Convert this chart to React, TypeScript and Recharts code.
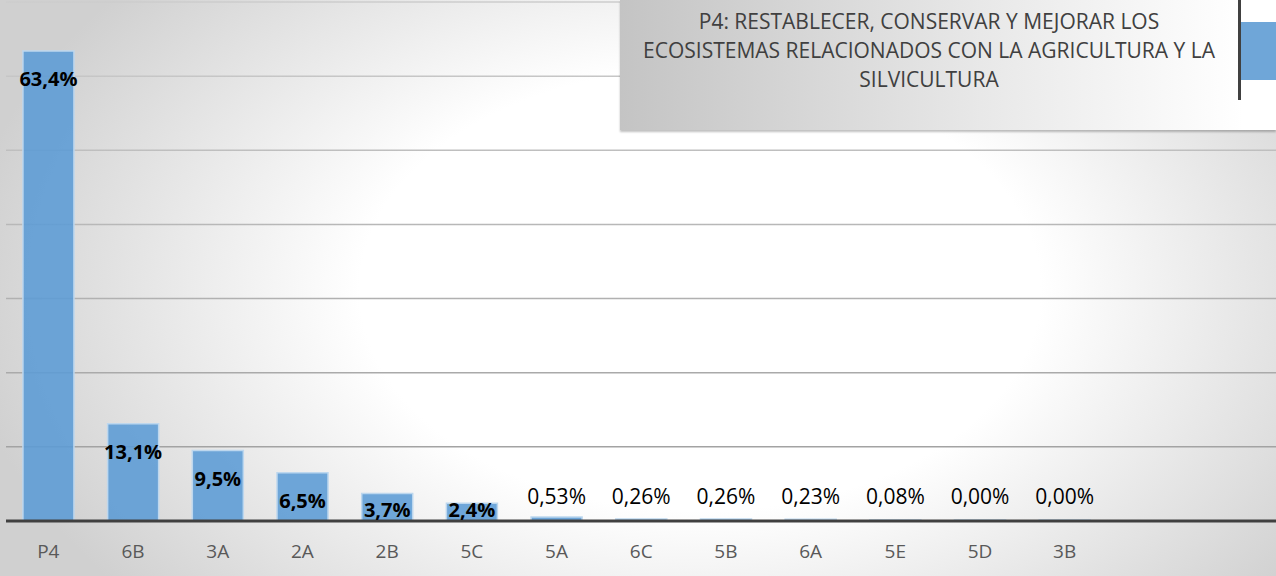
import { Bar, BarChart, CartesianGrid, LabelList, XAxis, YAxis } from "recharts";

const categories = ["P4", "6B", "3A", "2A", "2B", "5C", "5A", "6C", "5B", "6A", "5E", "5D", "3B"];
const shares = [63.4, 13.1, 9.5, 6.5, 3.7, 2.4, 0.53, 0.26, 0.26, 0.23, 0.08, 0.0, 0.0];
const gridTicks = [0, 10, 20, 30, 40, 50, 60, 70];
const legendLines = [
  "P4: RESTABLECER, CONSERVAR Y MEJORAR LOS",
  "ECOSISTEMAS RELACIONADOS CON LA AGRICULTURA Y LA",
  "SILVICULTURA",
];

const chartData = categories.map((name, i) => ({ name, share: shares[i] }));

const FONT = '"Open Sans", sans-serif';

const fmt = (v: number) => (v >= 1 ? v.toFixed(1) : v.toFixed(2)).replace(".", ",") + "%";

function ShareLabel(props: any) {
  const { x, y, width, value } = props;
  const cx = Number(x) + Number(width) / 2;
  const v = Number(value);
  if (v >= 1) {
    return (
      <text
        x={cx}
        y={Math.min(Number(y) + 28, 509)}
        textAnchor="middle"
        dominantBaseline="central"
        fontFamily={FONT}
        fontWeight={700}
        fontSize={20}
        fill="#000"
      >
        {fmt(v)}
      </text>
    );
  }
  return (
    <text
      x={cx}
      y={Math.min(Number(y), 517) - 21}
      textAnchor="middle"
      dominantBaseline="central"
      fontFamily={FONT}
      fontSize={21}
      fill="#000"
    >
      {fmt(v)}
    </text>
  );
}

export default function App() {
  return (
    <div
      style={{
        position: "absolute",
        left: 0,
        top: 0,
        width: 1276,
        height: 576,
        overflow: "hidden",
        background:
          "radial-gradient(ellipse 740px 480px at 700px 290px, #ffffff 0%, #ffffff 46%, #d0d0d0 100%)",
      }}
    >
      <BarChart
        width={1276}
        height={576}
        data={chartData}
        margin={{ top: 2, right: 0, left: 6, bottom: 0 }}
        barCategoryGap="20%"
      >
        <defs>
          <linearGradient id="gridFade" gradientUnits="userSpaceOnUse" x1="0" y1="0" x2="0" y2="521">
            <stop offset="0%" stopColor="#cdcdcd" />
            <stop offset="100%" stopColor="#9c9c9c" />
          </linearGradient>
        </defs>
        <CartesianGrid vertical={false} stroke="url(#gridFade)" strokeWidth={1.5} />
        <YAxis hide domain={[0, 70]} ticks={gridTicks} />
        <XAxis
          dataKey="name"
          height={55}
          padding={{ left: 0, right: 169 }}
          axisLine={{ stroke: "#404040", strokeWidth: 3 }}
          tickLine={false}
          tickSize={6}
          tickMargin={18}
          interval={0}
          tick={{ fontFamily: FONT, fontSize: 19, fill: "#595959" }}
        />
        <Bar
          dataKey="share"
          fill="#5B9BD5"
          fillOpacity={0.88}
          stroke="#BDD7EE"
          strokeWidth={1.5}
          minPointSize={1}
          isAnimationActive={false}
        >
          <LabelList dataKey="share" content={ShareLabel} />
        </Bar>
      </BarChart>
      <div
        style={{
          position: "absolute",
          left: 620,
          top: 0,
          width: 656,
          height: 130,
          background: "linear-gradient(to right, #c4c4c4 0%, #e8e8e8 55%, #ffffff 95%)",
          boxShadow: "0 2px 2px rgba(0,0,0,0.25)",
        }}
      >
        <div
          style={{
            position: "absolute",
            left: 0,
            top: 7,
            width: 618,
            textAlign: "center",
            fontFamily: FONT,
            fontSize: 21,
            lineHeight: "29px",
            color: "#404040",
          }}
        >
          {legendLines.map((line) => (
            <div key={line}>{line}</div>
          ))}
        </div>
        <div
          style={{
            position: "absolute",
            left: 618,
            top: 0,
            width: 3,
            height: 100,
            background: "#404040",
          }}
        />
        <div
          style={{
            position: "absolute",
            left: 621,
            top: 22,
            width: 40,
            height: 58,
            background: "#6FA6D8",
          }}
        />
      </div>
    </div>
  );
}
